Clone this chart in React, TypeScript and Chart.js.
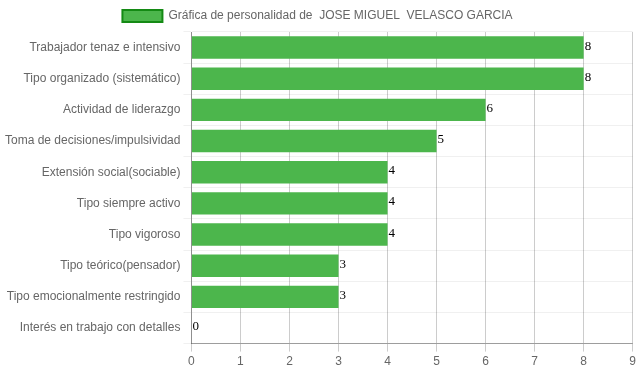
import React, { useEffect, useRef } from "react";
import { Chart, registerables } from "chart.js";

Chart.register(...registerables);

const categories = [
  "Trabajador tenaz e intensivo",
  "Tipo organizado (sistemático)",
  "Actividad de liderazgo",
  "Toma de decisiones/impulsividad",
  "Extensión social(sociable)",
  "Tipo siempre activo",
  "Tipo vigoroso",
  "Tipo teórico(pensador)",
  "Tipo emocionalmente restringido",
  "Interés en trabajo con detalles",
];
const values = [8, 8, 6, 5, 4, 4, 4, 3, 3, 0];
const seriesLabel = "Gráfica de personalidad de  JOSE MIGUEL  VELASCO GARCIA";
const xTicks = [0, 1, 2, 3, 4, 5, 6, 7, 8, 9];

const valueLabels = {
  id: "valueLabels",
  afterDatasetsDraw(chart: any) {
    const ctx = chart.ctx;
    const meta = chart.getDatasetMeta(0);
    ctx.save();
    ctx.font = "13px 'Liberation Serif', serif";
    ctx.fillStyle = "#000";
    ctx.textAlign = "left";
    ctx.textBaseline = "alphabetic";
    meta.data.forEach((bar: any, i: number) => {
      ctx.fillText(String(values[i]), bar.x + 1, bar.y + 2);
    });
    ctx.restore();
  },
};

export default function App() {
  const ref = useRef<HTMLCanvasElement>(null);
  useEffect(() => {
    document.body.style.margin = "0";
    const chart = new Chart(ref.current!, {
      type: "bar",
      data: {
        labels: categories,
        datasets: [
          {
            label: seriesLabel,
            data: values,
            backgroundColor: "#4cb64c",
            borderColor: "#148a14",
            borderWidth: 0,
            barPercentage: 0.9,
            categoryPercentage: 0.8,
          },
        ],
      },
      options: {
        indexAxis: "y",
        animation: false,
        responsive: false,
        maintainAspectRatio: false,
        layout: { padding: { left: 2, right: 6, top: 0, bottom: 0 } },
        plugins: {
          legend: {
            display: true,
            labels: {
              color: "#666",
              font: { family: "'Liberation Sans', Arial, sans-serif", size: 12 },
              boxWidth: 40,
              boxHeight: 12,
              generateLabels: (c: any) => [
                {
                  text: seriesLabel,
                  fillStyle: "#4cb64c",
                  strokeStyle: "#148a14",
                  lineWidth: 2,
                  datasetIndex: 0,
                  fontColor: "#666",
                },
              ],
            },
          },
          tooltip: { enabled: false },
        },
        scales: {
          x: {
            type: "linear",
            min: 0,
            max: 9,
            afterBuildTicks: (axis: any) => {
              axis.ticks = xTicks.map((v) => ({ value: v }));
            },
            ticks: {
              color: "#666",
              font: { family: "'Liberation Sans', Arial, sans-serif", size: 12 },
            },
            grid: { color: "rgba(0,0,0,0.2)", tickLength: 8 },
            border: { color: "rgba(0,0,0,0.35)" },
          },
          y: {
            ticks: {
              color: "#666",
              font: { family: "'Liberation Sans', Arial, sans-serif", size: 12 },
            },
            grid: { color: "rgba(0,0,0,0.06)", tickLength: 8, offset: true },
            border: { color: "rgba(0,0,0,0.3)" },
          },
        },
      },
      plugins: [valueLabels],
    });
    return () => chart.destroy();
  }, []);
  return (
    <div style={{ position: "absolute", left: 0, top: 0, width: 639, height: 372 }}>
      <canvas ref={ref} width={639} height={372} style={{ width: 639, height: 372 }} />
    </div>
  );
}
